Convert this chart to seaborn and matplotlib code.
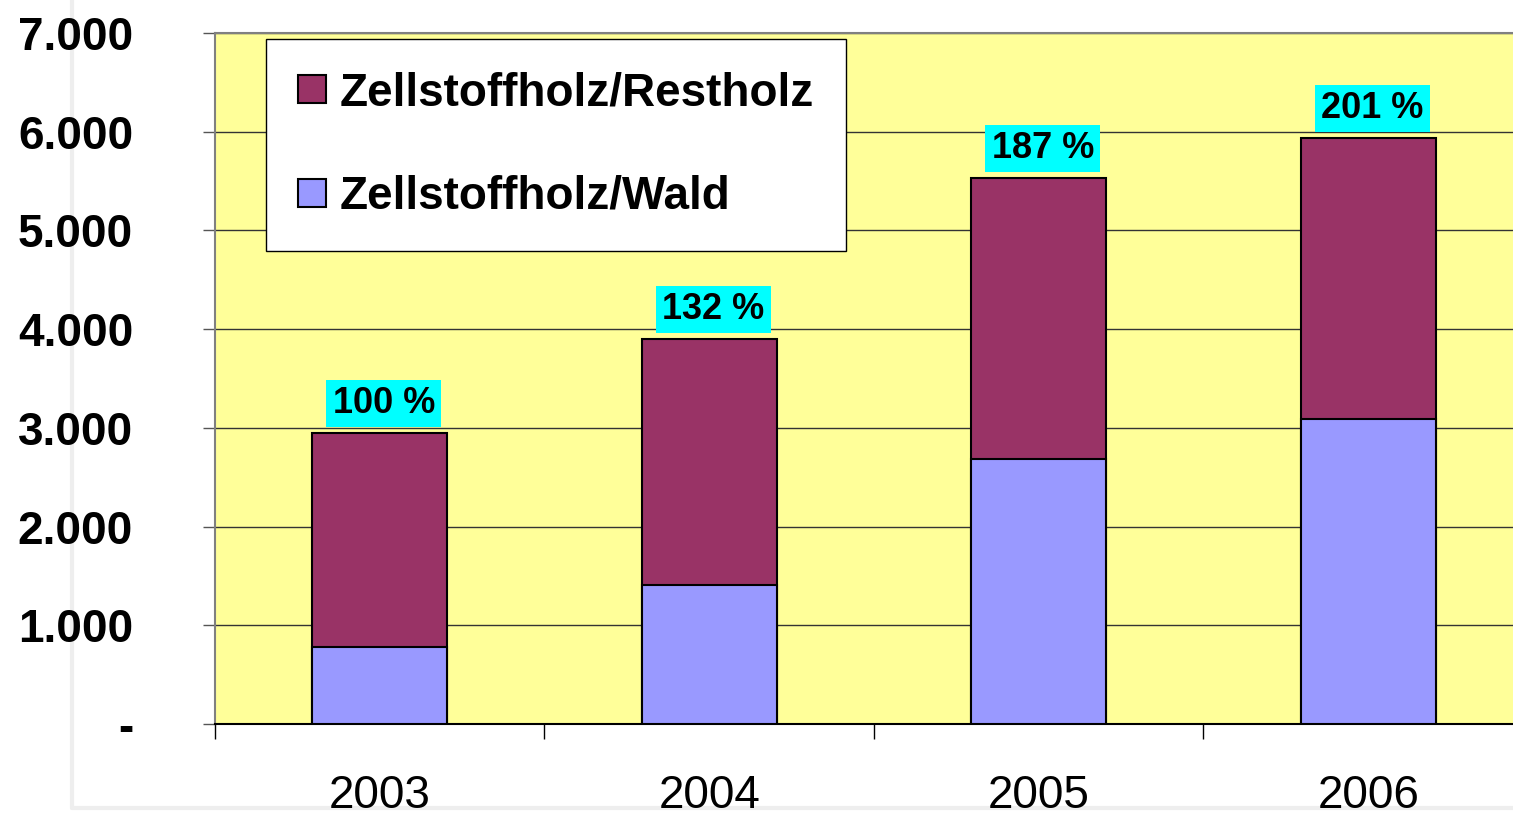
import numpy as np
import pandas as pd
import matplotlib
matplotlib.use("Agg")
import matplotlib.pyplot as plt
import matplotlib.ticker as mticker
from matplotlib.lines import Line2D
import seaborn as sb

years = ["2003", "2004", "2005", "2006"]
wald = [780, 1410, 2685, 3090]
restholz = [2168, 2490, 2847, 2847]
pct_labels = ["100 %", "132 %", "187 %", "201 %"]

col_rest = "#993366"
col_wald = "#9999FF"

df = pd.DataFrame({"year": years, "wald": wald, "rest": restholz})
df["total"] = df["wald"] + df["rest"]

sb.set_style("white")
plt.rcParams["font.family"] = ["Liberation Sans", "DejaVu Sans"]
plt.rcParams["text.color"] = "black"
plt.rcParams["xtick.color"] = "black"
plt.rcParams["ytick.color"] = "black"

fig = plt.figure(figsize=(15.13, 8.16), dpi=100)
W, H = 1513, 816
ax = fig.add_axes([215 / W, (H - 724) / H, 1318 / W, 691 / H])
ax.set_facecolor("#FFFF99")

# stacked: total drawn first, forest part on top of it
sb.barplot(data=df, x="year", y="total", color=col_rest, width=0.41,
           edgecolor="black", linewidth=1.5, saturation=1, ax=ax, zorder=3)
sb.barplot(data=df, x="year", y="wald", color=col_wald, width=0.41,
           edgecolor="black", linewidth=1.5, saturation=1, ax=ax, zorder=4)

ax.set_xlim(-0.5, 3.5)
ax.set_ylim(0, 7000)
ax.set_xlabel("")
ax.set_ylabel("")

ax.yaxis.set_major_locator(mticker.MultipleLocator(1000))
ax.yaxis.set_major_formatter(mticker.FuncFormatter(
    lambda v, p: "-" if v == 0 else f"{int(v):,}".replace(",", ".")))
ax.grid(axis="y", color="#333333", linewidth=1, zorder=0)
ax.set_axisbelow(True)

ax.set_xticks([-0.5, 0.5, 1.5, 2.5, 3.5])
ax.set_xticklabels([])
ax.set_xticks([0, 1, 2, 3], minor=True)
ax.set_xticklabels(years, minor=True)
ax.tick_params(axis="x", which="major", direction="out", length=11, width=1,
               color="black", bottom=True)
ax.tick_params(axis="x", which="minor", length=0, pad=36, labelsize=33,
               labelcolor="black")
ax.tick_params(axis="y", direction="out", length=9, width=1, color="#555555",
               left=True, pad=50, labelsize=33, labelcolor="black")
for lab in ax.get_yticklabels():
    lab.set_fontweight("bold")

for s in ["top", "right", "left"]:
    ax.spines[s].set_color("#808080")
    ax.spines[s].set_linewidth(1.5)
ax.spines["bottom"].set_color("black")
ax.spines["bottom"].set_linewidth(1.5)

for i, (tot, lab) in enumerate(zip(df["total"], pct_labels)):
    ax.annotate(lab, xy=(i, tot), xytext=(4, 12), textcoords="offset pixels",
                ha="center", va="bottom", fontsize=26, fontweight="bold",
                color="black",
                bbox=dict(boxstyle="square,pad=0.17", facecolor="#00FFFF",
                          edgecolor="none"), zorder=6)

handles = [Line2D([], [], marker="s", linestyle="", markersize=20,
                  markerfacecolor=col_rest, markeredgecolor="black",
                  markeredgewidth=1.5, label="Zellstoffholz/Restholz"),
           Line2D([], [], marker="s", linestyle="", markersize=20,
                  markerfacecolor=col_wald, markeredgecolor="black",
                  markeredgewidth=1.5, label="Zellstoffholz/Wald")]
leg = fig.legend(handles=handles, loc="upper left", numpoints=1,
                 bbox_to_anchor=(266 / W, 1 - 39 / H), frameon=True,
                 fancybox=False, shadow=False, framealpha=1,
                 prop={"size": 33, "weight": "bold"},
                 handlelength=0.6, handleheight=0.7, handletextpad=0.3,
                 labelspacing=1.3, borderpad=0.7, borderaxespad=0)
leg.get_frame().set_edgecolor("black")
leg.get_frame().set_linewidth(1)
for t in leg.get_texts():
    t.set_color("black")

# faint outer frame of the original slide object
fig.add_artist(Line2D([72 / W, 72 / W], [1, 1 - 808 / H], transform=fig.transFigure,
                      color="#eeeeee", linewidth=3, zorder=-5))
fig.add_artist(Line2D([72 / W, 1], [1 - 808 / H, 1 - 808 / H], transform=fig.transFigure,
                      color="#eeeeee", linewidth=3, zorder=-5))

fig.savefig("out.png", dpi=100)
